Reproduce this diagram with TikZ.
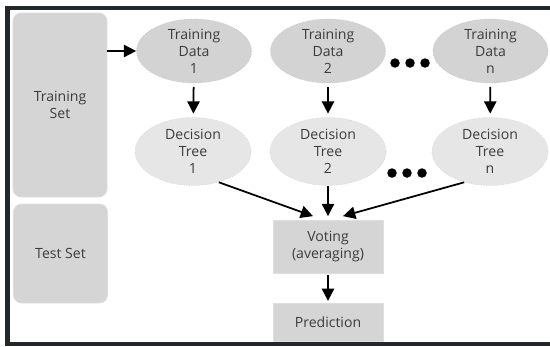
\documentclass[tikz,border=0pt]{standalone}
\usepackage{fontspec}
\setmainfont{Open Sans}
\usetikzlibrary{arrows.meta,shapes.geometric}

\definecolor{framecol}{HTML}{25282B}
\definecolor{datagray}{HTML}{D3D3D3}
\definecolor{treegray}{HTML}{E6E6E6}
\definecolor{boxgray}{HTML}{D5D5D5}
\definecolor{txtgray}{HTML}{3C3C3C}

\begin{document}
\begin{tikzpicture}[
    >={Triangle[length=7pt,width=7pt]},
    every node/.style={font=\fontsize{8}{9.6}\selectfont, text=txtgray, align=center},
    dataell/.style={ellipse, draw=gray!45, densely dotted, fill=datagray, inner sep=0pt, minimum width=2.3cm, minimum height=1.28cm},
    treeell/.style={ellipse, draw=gray!35, densely dotted, fill=treegray, inner sep=0pt, minimum width=2.32cm, minimum height=1.36cm},
    setbox/.style={rectangle, rounded corners=0.16cm, draw=gray!25, fill=boxgray, minimum width=1.88cm, minimum height=3.68cm},
    votebox/.style={rectangle, draw=gray!25, fill=boxgray, minimum width=2.2cm, minimum height=1.06cm},
    bigdot/.style={circle, fill=black, inner sep=0pt, minimum size=0.19cm}
]
\useasboundingbox (0,0) rectangle (11,6.92);

% Frame
\draw[framecol, line width=0.09cm] (11,6.76) -- (0.15,6.76) -- (0.15,0.04) -- (11,0.04);

% Sets
\node[setbox] (trainset) at (1.2,4.82) {Training\\Set};
\node[setbox, minimum height=1.98cm] (testset) at (1.21,1.85) {Test Set};

% Training data
\node[dataell] (data1) at (3.88,5.9) {Training\\Data\\1};
\node[dataell] (data2) at (6.56,5.9) {Training\\Data\\2};
\node[dataell] (datan) at (9.81,5.9) {Training\\Data\\n};

% Decision trees
\node[treeell] (tree1) at (3.86,3.89) {Decision\\Tree\\1};
\node[treeell] (tree2) at (6.56,3.89) {Decision\\Tree\\2};
\node[treeell] (treen) at (9.8,3.89) {Decision\\Tree\\n};

% Dots
\node[bigdot] (dotd1) at (7.9,5.66) {};
\node[bigdot] (dotd2) at (8.2,5.66) {};
\node[bigdot] (dotd3) at (8.5,5.66) {};
\node[bigdot] (dott1) at (7.84,3.46) {};
\node[bigdot] (dott2) at (8.14,3.46) {};
\node[bigdot] (dott3) at (8.44,3.46) {};

% Output
\node[votebox] (vote) at (6.56,1.99) {Voting\\(averaging)};
\node[votebox, minimum height=0.76cm] (pred) at (6.56,0.48) {Prediction};

% Arrows
\draw[->, line width=1pt] (trainset.east |- data1.west) -- (data1.west);
\draw[->, line width=1pt, shorten <=2pt, shorten >=2pt] (data1) -- (tree1);
\draw[->, line width=1pt, shorten <=2pt, shorten >=2pt] (data2) -- (tree2);
\draw[->, line width=1pt, shorten <=2pt, shorten >=2pt] (datan) -- (treen);
\draw[->, line width=1pt] (tree1.-50) -- ([xshift=-0.3cm, yshift=2pt]vote.north);
\draw[->, line width=1pt, shorten >=2pt] (tree2) -- (vote);
\draw[->, line width=1pt] (treen.-130) -- ([xshift=0.3cm, yshift=2pt]vote.north);
\draw[->, line width=1pt, shorten <=1pt, shorten >=1pt] (vote) -- (pred);

\end{tikzpicture}
\end{document}
